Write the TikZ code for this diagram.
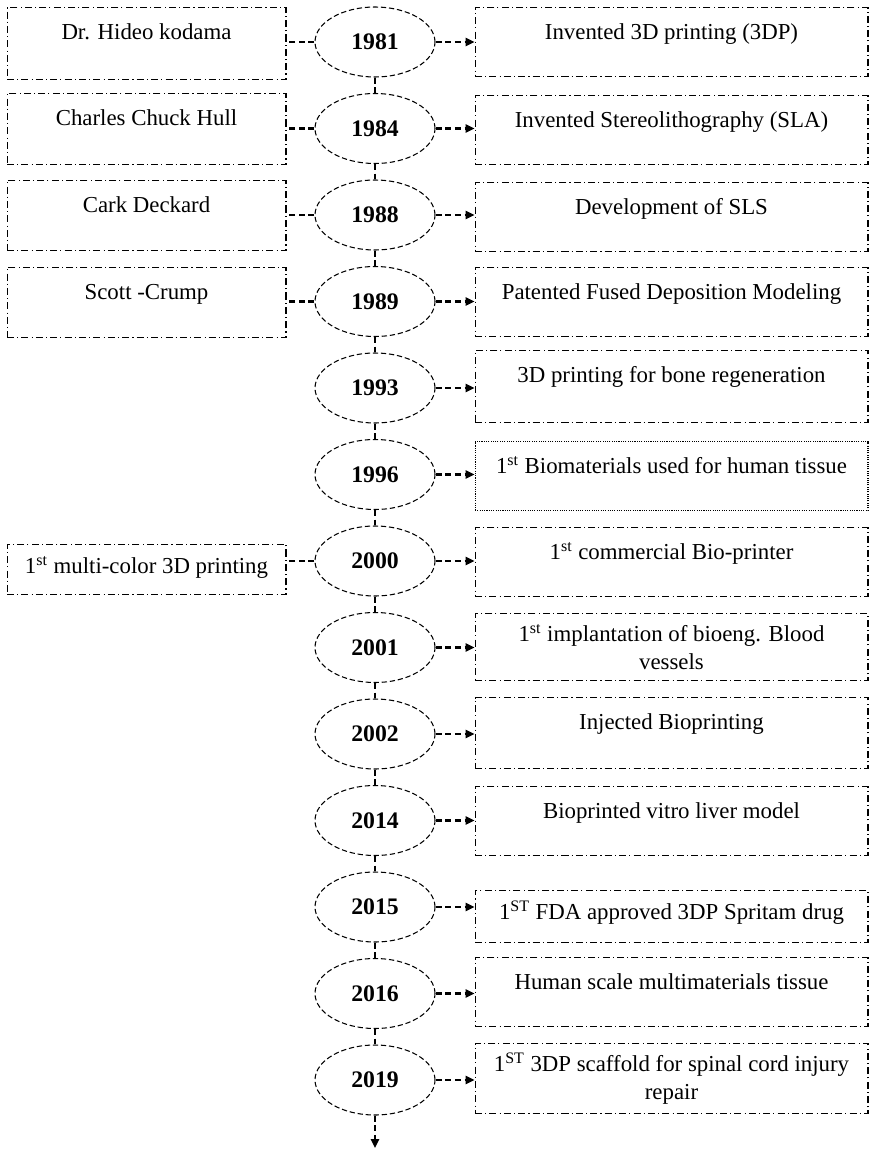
\documentclass[tikz,border=0pt]{standalone}
\usepackage{fontspec}
\setmainfont{Liberation Serif}
\usetikzlibrary{shapes.geometric,arrows.meta}
\tikzset{
	yr/.style={draw, ellipse, line width=0.6pt, dash pattern=on 3pt off 1.6pt, minimum width=2.4cm, minimum height=1.4cm, inner sep=0pt, font=\fontsize{13.5}{15}\selectfont\bfseries},
	evt/.style={draw, line width=0.6pt, dash pattern=on 4pt off 1.8pt on 0.6pt off 1.8pt, anchor=north, inner xsep=0pt, inner ysep=0pt, align=center, font=\fontsize{13}{16}\selectfont},
	one/.style={text height=0.64cm, text depth=0.74cm},
	rbox/.style={evt, minimum width=7.86cm},
	lbox/.style={evt, minimum width=5.58cm},
	link/.style={line width=1.3pt, dash pattern=on 3.5pt off 2pt},
	tip/.style={link, -{Triangle[length=5pt,width=4.5pt]}}
}
\begin{document}
\begin{tikzpicture}[x=0.02cm, y=-0.02cm]
	\useasboundingbox (0,0) rectangle (871,1152);
	% years
	\foreach \yy [count=\i] in {1981,1984,1988,1989,1993,1996,2000,2001,2002,2014,2015,2016,2019}
		\node[yr] (y\i) at (375,42+86.5*\i-86.5) {\yy};
	\foreach \i [count=\j from 2] in {1,...,12}
		\draw[link] (y\i) -- (y\j);
	\coordinate (end) at (375,1148);
	\draw[tip] (y13) -- (end);

	% events
	\node[rbox, one] (r1) at (671.5,7) {Invented 3D printing (3DP)};
	\node[rbox, one] (r2) at (671.5,95) {Invented Stereolithography (SLA)};
	\node[rbox, one] (r3) at (671.5,182) {Development of SLS};
	\node[rbox, one] (r4) at (671.5,267) {Patented Fused Deposition Modeling};
	\node[rbox, one, text depth=0.8cm] (r5) at (671.5,350) {3D printing for bone regeneration};
	\node[rbox, one, dash pattern=on 0.6pt off 0.7pt] (r6) at (671.5,441) {1\textsuperscript{st} Biomaterials used for human tissue};
	\node[rbox, one] (r7) at (671.5,527) {1\textsuperscript{st} commercial Bio-printer};
	\node[rbox, minimum height=1.34cm] (r8) at (671.5,613) {1\textsuperscript{st} implantation of bioeng. Blood\\vessels};
	\node[rbox, one, text depth=0.78cm] (r9) at (671.5,697) {Injected Bioprinting};
	\node[rbox, one] (r10) at (671.5,786) {Bioprinted vitro liver model};
	\node[rbox, text height=0.58cm, text depth=0.46cm] (r11) at (671.5,890) {1\textsuperscript{ST} FDA approved 3DP Spritam drug};
	\node[rbox, one] (r12) at (671.5,957) {Human scale multimaterials tissue};
	\node[rbox, minimum height=1.4cm] (r13) at (671.5,1043) {1\textsuperscript{ST} 3DP scaffold for spinal cord injury\\repair};
	\foreach \i in {1,...,13}
		\draw[tip] (y\i.east) -- (y\i.east -| r\i.west);

	% people
	\node[lbox, one, text depth=0.8cm] (l1) at (146.5,7) {Dr. Hideo kodama};
	\node[lbox, one, text depth=0.78cm] (l2) at (146.5,93) {Charles Chuck Hull};
	\node[lbox, one, text depth=0.76cm] (l3) at (146.5,180) {Cark Deckard};
	\node[lbox, one, text depth=0.76cm] (l4) at (146.5,267) {Scott -Crump};
	\node[lbox, text height=0.58cm, text depth=0.42cm] (l5) at (146.5,544) {1\textsuperscript{st} multi-color 3D printing};
	\foreach \i/\k in {1/1,2/2,3/3,4/4,7/5}
		\draw[link] (y\i.west) -- (y\i.west -| l\k.east);
\end{tikzpicture}
\end{document}
